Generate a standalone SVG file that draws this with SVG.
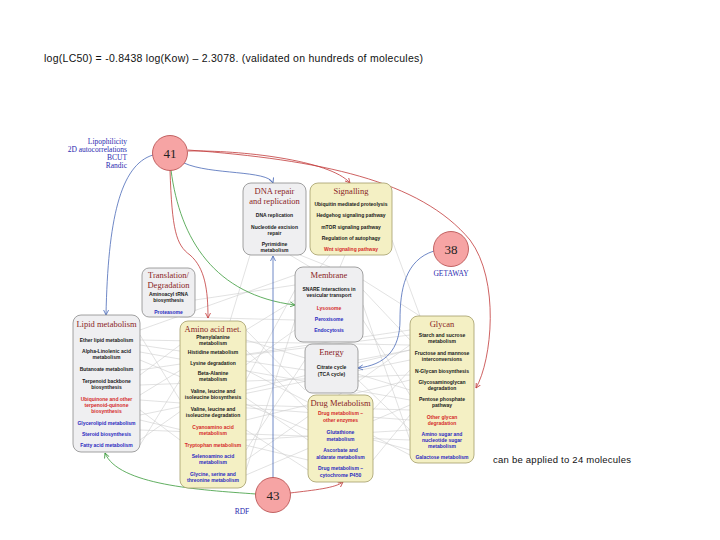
<svg xmlns="http://www.w3.org/2000/svg" width="720" height="540" viewBox="0 0 720 540">
<style>
.cap{font-family:"Liberation Sans",Arial,sans-serif;fill:#111}
.gbox{fill:#efeff1;stroke:#8a8a8a;stroke-width:0.8}
.ybox{fill:#f4f0c4;stroke:#a39d6a;stroke-width:0.8}
.ttl{font-family:"Liberation Serif","Times New Roman",serif;font-size:8.5px;fill:#8a2424;text-anchor:middle}
.it{font-family:"Liberation Sans",Arial,sans-serif;font-size:5px;font-weight:bold;fill:#1a1a1a;text-anchor:middle}
.r{fill:#d42a2a}
.b{fill:#2a2ac0}
.circ{fill:#f6a4a4;stroke:#b24848;stroke-width:0.8}
.num{font-family:"Liberation Serif","Times New Roman",serif;font-size:13px;fill:#222;text-anchor:middle}
.desc{font-family:"Liberation Serif","Times New Roman",serif;font-size:7.5px;fill:#2a2ab0}
.web line{stroke:#cacaca;stroke-width:0.55}
.cr{fill:none;stroke:#c23a3a;stroke-width:0.8}
.cb{fill:none;stroke:#4a6ab8;stroke-width:0.8}
.cg{fill:none;stroke:#3a9a3a;stroke-width:0.8}
</style>
<defs>
<marker id="ar" markerWidth="6" markerHeight="6" refX="5" refY="3" orient="auto" markerUnits="userSpaceOnUse"><path d="M0,0.5 L5,3 L0,5.5" fill="none" stroke="#c23a3a" stroke-width="0.8"/></marker>
<marker id="ab" markerWidth="6" markerHeight="6" refX="5" refY="3" orient="auto" markerUnits="userSpaceOnUse"><path d="M0,0.5 L5,3 L0,5.5" fill="none" stroke="#4a6ab8" stroke-width="0.8"/></marker>
<marker id="ag" markerWidth="6" markerHeight="6" refX="5" refY="3" orient="auto" markerUnits="userSpaceOnUse"><path d="M0,0.5 L5,3 L0,5.5" fill="none" stroke="#3a9a3a" stroke-width="0.8"/></marker>
</defs>
<rect width="720" height="540" fill="#fff"/>
<text class="cap" x="44" y="62" font-size="10.5" textLength="379" lengthAdjust="spacing">log(LC50) = -0.8438 log(Kow) – 2.3078.  (validated on hundreds of molecules)</text>
<text class="cap" x="493" y="463" font-size="9.5" textLength="138" lengthAdjust="spacing">can be applied to 24 molecules</text>

<g id="connectors">
<g class="web">
<line x1="140" y1="340" x2="410" y2="345"/><line x1="140" y1="352" x2="410" y2="400"/>
<line x1="140" y1="370" x2="410" y2="330"/><line x1="140" y1="385" x2="410" y2="375"/>
<line x1="140" y1="400" x2="410" y2="420"/><line x1="140" y1="415" x2="410" y2="360"/>
<line x1="140" y1="430" x2="410" y2="440"/><line x1="140" y1="345" x2="305" y2="370"/>
<line x1="140" y1="360" x2="308" y2="430"/><line x1="140" y1="395" x2="295" y2="300"/>
<line x1="140" y1="420" x2="308" y2="460"/><line x1="140" y1="440" x2="295" y2="330"/>
<line x1="140" y1="335" x2="180" y2="400"/><line x1="140" y1="375" x2="180" y2="345"/>
<line x1="140" y1="410" x2="180" y2="440"/><line x1="140" y1="445" x2="180" y2="380"/>
<line x1="246" y1="340" x2="410" y2="390"/><line x1="246" y1="355" x2="410" y2="335"/>
<line x1="246" y1="370" x2="410" y2="455"/><line x1="246" y1="390" x2="410" y2="350"/>
<line x1="246" y1="405" x2="410" y2="410"/><line x1="246" y1="420" x2="410" y2="380"/>
<line x1="246" y1="440" x2="410" y2="430"/><line x1="246" y1="460" x2="410" y2="345"/>
<line x1="246" y1="475" x2="410" y2="405"/><line x1="246" y1="330" x2="305" y2="390"/>
<line x1="246" y1="350" x2="308" y2="410"/><line x1="246" y1="380" x2="295" y2="290"/>
<line x1="246" y1="430" x2="308" y2="470"/><line x1="246" y1="450" x2="305" y2="360"/>
<line x1="246" y1="470" x2="295" y2="320"/><line x1="246" y1="398" x2="308" y2="440"/>
<line x1="363" y1="290" x2="410" y2="340"/><line x1="363" y1="320" x2="410" y2="395"/>
<line x1="358" y1="360" x2="410" y2="350"/><line x1="358" y1="380" x2="410" y2="430"/>
<line x1="373" y1="410" x2="410" y2="370"/><line x1="373" y1="440" x2="410" y2="450"/>
<line x1="373" y1="460" x2="410" y2="415"/><line x1="363" y1="305" x2="410" y2="440"/>
<line x1="195" y1="300" x2="295" y2="285"/><line x1="180" y1="317" x2="295" y2="320"/>
<line x1="290" y1="255" x2="310" y2="267"/><line x1="300" y1="255" x2="330" y2="267"/>
<line x1="345" y1="255" x2="340" y2="267"/><line x1="330" y1="255" x2="320" y2="267"/>
<line x1="392" y1="240" x2="420" y2="316"/><line x1="250" y1="255" x2="230" y2="321"/>
<line x1="140" y1="330" x2="295" y2="275"/><line x1="363" y1="280" x2="420" y2="316"/>
</g>
<path class="cr" d="M188,151 C240,150 330,160 350,183" marker-end="url(#ar)"/>
<path class="cr" d="M188,150 C320,160 420,180 470,240 C500,280 492,360 476,388" marker-end="url(#ar)"/>
<path class="cb" d="M184,163 C210,175 268,170 273,183" marker-end="url(#ab)"/>
<path class="cg" d="M171,170 C180,240 215,295 295,305" marker-end="url(#ag)"/>
<path class="cr" d="M170,170 C172,230 176,245 190,255 C205,268 208,290 208,318" marker-end="url(#ar)"/>
<path class="cb" d="M153,155 C120,165 108,220 106,315" marker-end="url(#ab)"/>
<path class="cb" d="M434,251 C405,260 400,290 400,320 C400,350 385,365 358,368" marker-end="url(#ab)"/>
<path class="cr" d="M290,493 C315,490 335,488 343,482" marker-end="url(#ar)"/>
<path class="cg" d="M256,494 C200,490 118,485 105,453" marker-end="url(#ag)"/>
<path class="cb" d="M273,478 L273,256" marker-end="url(#ab)"/>
</g>

<g id="n41"><circle class="circ" cx="170" cy="153" r="17.5"/><text class="num" x="170" y="158">41</text>
<text class="desc" x="127" y="144" text-anchor="end">Lipophilicity</text>
<text class="desc" x="127" y="152" text-anchor="end">2D autocorrelations</text>
<text class="desc" x="127" y="160" text-anchor="end">BCUT</text>
<text class="desc" x="127" y="168" text-anchor="end">Randic</text></g>

<g id="n38"><circle class="circ" cx="451" cy="249" r="17.5"/><text class="num" x="451" y="254">38</text>
<text class="desc" x="451" y="276" text-anchor="middle" font-size="6.5">GETAWAY</text></g>

<g id="n43"><circle class="circ" cx="273" cy="495" r="17.5"/><text class="num" x="273" y="500">43</text>
<text class="desc" x="242" y="514" text-anchor="middle">RDF</text></g>

<g id="dna"><rect class="gbox" x="243" y="183" width="63" height="72" rx="8"/>
<text class="ttl" x="274.5" y="194">DNA repair</text><text class="ttl" x="274.5" y="204">and replication</text>
<text class="it" x="274.5" y="217">DNA replication</text>
<text class="it" x="274.5" y="229">Nucleotide excision</text><text class="it" x="274.5" y="235">repair</text>
<text class="it" x="274.5" y="246">Pyrimidine</text><text class="it" x="274.5" y="252">metabolism</text></g>

<g id="signalling"><rect class="ybox" x="310" y="183" width="82" height="72" rx="8"/>
<text class="ttl" x="351" y="194">Signalling</text>
<text class="it" x="351" y="206">Ubiquitin mediated proteolysis</text>
<text class="it" x="351" y="217">Hedgehog signaling pathway</text>
<text class="it" x="351" y="229">mTOR signaling pathway</text>
<text class="it" x="351" y="240">Regulation of autophagy</text>
<text class="it r" x="351" y="251">Wnt signaling pathway</text></g>

<g id="translation"><rect class="gbox" x="142" y="268" width="53" height="49" rx="7"/>
<text class="ttl" x="168.5" y="278">Translation/</text><text class="ttl" x="168.5" y="288">Degradation</text>
<text class="it" x="168.5" y="296">Aminoacyl tRNA</text><text class="it" x="168.5" y="302">biosynthesis</text>
<text class="it b" x="168.5" y="314">Proteasome</text></g>

<g id="membrane"><rect class="gbox" x="295" y="267" width="68" height="75" rx="8"/>
<text class="ttl" x="329" y="278">Membrane</text>
<text class="it" x="329" y="291">SNARE interactions in</text><text class="it" x="329" y="297">vesicular transport</text>
<text class="it r" x="329" y="310">Lysosome</text>
<text class="it b" x="329" y="321">Peroxisome</text>
<text class="it b" x="329" y="332">Endocytosis</text></g>

<g id="energy"><rect class="gbox" x="305" y="344" width="53" height="49" rx="7"/>
<text class="ttl" x="331.5" y="355">Energy</text>
<text class="it" x="331.5" y="369">Citrate cycle</text><text class="it" x="331.5" y="376">(TCA cycle)</text></g>

<g id="drug"><rect class="ybox" x="308" y="395" width="65" height="87" rx="8"/>
<text class="ttl" x="340.5" y="406">Drug Metabolism</text>
<text class="it r" x="340.5" y="415">Drug metabolism –</text><text class="it r" x="340.5" y="422">other enzymes</text>
<text class="it b" x="340.5" y="434">Glutathione</text><text class="it b" x="340.5" y="441">metabolism</text>
<text class="it b" x="340.5" y="452">Ascorbate and</text><text class="it b" x="340.5" y="459">aldarate metabolism</text>
<text class="it b" x="340.5" y="470">Drug metabolism –</text><text class="it b" x="340.5" y="477">cytochrome P450</text></g>

<g id="lipid"><rect class="gbox" x="73" y="315" width="67" height="137" rx="8"/>
<text class="ttl" x="106.5" y="327">Lipid metabolism</text>
<text class="it" x="106.5" y="342">Ether lipid metabolism</text>
<text class="it" x="106.5" y="353">Alpha-Linolenic acid</text><text class="it" x="106.5" y="359">metabolism</text>
<text class="it" x="106.5" y="371">Butanoate metabolism</text>
<text class="it" x="106.5" y="383">Terpenoid backbone</text><text class="it" x="106.5" y="389">biosynthesis</text>
<text class="it r" x="106.5" y="401">Ubiquinone and other</text><text class="it r" x="106.5" y="407">terpenoid-quinone</text><text class="it r" x="106.5" y="413">biosynthesis</text>
<text class="it b" x="106.5" y="425">Glycerolipid metabolism</text>
<text class="it b" x="106.5" y="436">Steroid biosynthesis</text>
<text class="it b" x="106.5" y="447">Fatty acid metabolism</text></g>

<g id="amino"><rect class="ybox" x="180" y="321" width="66" height="167" rx="8"/>
<text class="ttl" x="213" y="332">Amino acid met.</text>
<text class="it" x="213" y="339">Phenylalanine</text><text class="it" x="213" y="345">metabolism</text>
<text class="it" x="213" y="354">Histidine metabolism</text>
<text class="it" x="213" y="365">Lysine degradation</text>
<text class="it" x="213" y="375">Beta-Alanine</text><text class="it" x="213" y="381">metabolism</text>
<text class="it" x="213" y="393">Valine, leucine and</text><text class="it" x="213" y="399">isoleucine biosynthesis</text>
<text class="it" x="213" y="411">Valine, leucine and</text><text class="it" x="213" y="417">isoleucine degradation</text>
<text class="it r" x="213" y="429">Cyanoamino acid</text><text class="it r" x="213" y="435">metabolism</text>
<text class="it r" x="213" y="447">Tryptophan metabolism</text>
<text class="it b" x="213" y="458">Selenoamino acid</text><text class="it b" x="213" y="464">metabolism</text>
<text class="it b" x="213" y="476">Glycine, serine and</text><text class="it b" x="213" y="482">threonine metabolism</text></g>

<g id="glycan"><rect class="ybox" x="410" y="316" width="64" height="147" rx="8"/>
<text class="ttl" x="442" y="327">Glycan</text>
<text class="it" x="442" y="337">Starch and sucrose</text><text class="it" x="442" y="343">metabolism</text>
<text class="it" x="442" y="355">Fructose and mannose</text><text class="it" x="442" y="361">interconversions</text>
<text class="it" x="442" y="373">N-Glycan biosynthesis</text>
<text class="it" x="442" y="384">Glycosaminoglycan</text><text class="it" x="442" y="390">degradation</text>
<text class="it" x="442" y="401">Pentose phosphate</text><text class="it" x="442" y="407">pathway</text>
<text class="it r" x="442" y="419">Other glycan</text><text class="it r" x="442" y="425">degradation</text>
<text class="it b" x="442" y="436">Amino sugar and</text><text class="it b" x="442" y="442">nucleotide sugar</text><text class="it b" x="442" y="448">metabolism</text>
<text class="it b" x="442" y="459">Galactose metabolism</text></g>
</svg>
